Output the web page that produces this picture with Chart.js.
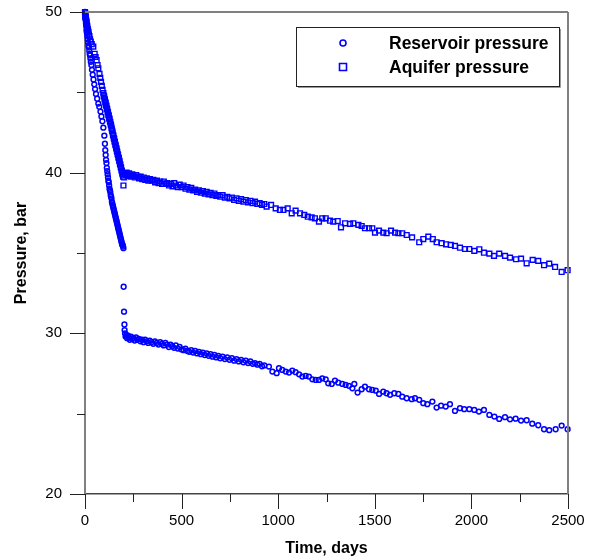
<!DOCTYPE html>
<html>
<head>
<meta charset="utf-8">
<script src="https://cdn.jsdelivr.net/npm/chart.js@4.4.0/dist/chart.umd.min.js"></script>
<style>
  html, body { margin: 0; padding: 0; background: #fff; }
  #wrap { width: 597px; height: 560px; }
</style>
</head>
<body>
<div id="wrap"><canvas id="myChart" width="597" height="560"></canvas></div>
<script>
// [time in days, pressure in bar]
const reservoirPoints = [
  [0,50.0],[1,49.9],[2,49.7],[3,49.6],[4,49.5],[5,49.3],[6,49.2],[7,49.1],[8,48.9],[9,48.8],[10,48.7],
  [12,48.5],[14,48.3],[16,48.1],[18,47.9],[20,47.8],[22,47.6],[24,47.4],[26,47.3],[28,47.1],[30,46.9],
  [33,46.7],[36,46.4],[40,46.1],[44,45.8],[48,45.5],[52,45.2],[57,44.9],[63,44.6],[69,44.3],[74,44.1],
  [80,43.8],[85,43.5],[90,43.2],[95,42.8],[100,42.3],[103,41.8],[105,41.4],[107,41.1],[109,40.8],[111,40.6],
  [113,40.3],[115,40.1],[117,39.9],[119,39.7],[121,39.5],[123,39.4],[125,39.2],[127,39.0],[129,38.9],[131,38.8],
  [133,38.6],[135,38.5],[137,38.4],[139,38.2],[141,38.1],[143,38.0],[145,37.9],[147,37.8],[149,37.7],[151,37.6],
  [153,37.5],[155,37.4],[157,37.3],[159,37.2],[161,37.1],[163,37.0],[165,36.9],[167,36.8],[169,36.7],[171,36.6],
  [173,36.5],[175,36.4],[177,36.3],[179,36.2],[181,36.1],[183,36.0],[185,35.9],[187,35.8],[189,35.7],[191,35.6],
  [193,35.5],[195,35.5],[197,35.4],[199,35.3],
  [200,32.9],[202,31.35],[204,30.55],[205,30.2],
  [207,30.0],[210,29.8],[214,29.9],[218,29.7],[222,29.85],[227,29.75],[232,29.6],[238,29.8],[244,29.65],[250,29.7],
  [257,29.55],[264,29.75],[271,29.6],[279,29.65],[287,29.5],[295,29.6],[303,29.45],[311,29.6],[319,29.5],[327,29.4],
  [335,29.55],[344,29.45],[353,29.35],[362,29.5],[371,29.4],[380,29.3],[389,29.45],[398,29.35],[407,29.25],[416,29.4],
  [425,29.3],[434,29.15],[443,29.3],[452,29.2],[461,29.1],[470,29.25],[480,29.05],[490,29.15],[500,29.0],[510,28.95],
  [520,29.05],[530,28.9],[540,28.85],[550,28.95],[560,28.8],[570,28.9],[580,28.75],[590,28.85],[600,28.7],[610,28.8],
  [620,28.65],[630,28.75],[640,28.6],[650,28.7],[660,28.55],[670,28.65],[680,28.5],[690,28.6],[700,28.45],[712,28.55],
  [724,28.4],[736,28.5],[748,28.35],[760,28.45],[772,28.3],[784,28.4],[796,28.25],[808,28.35],[820,28.2],[832,28.3],
  [844,28.15],[856,28.25],[868,28.1],[880,28.15],[892,28.05],[904,28.1],[916,27.95],[928,28.0],
  [952,27.93],[970,27.62],[992,27.52],[1004,27.83],[1021,27.72],[1039,27.62],[1056,27.56],[1073,27.68],[1090,27.58],
  [1108,27.45],[1125,27.31],[1142,27.35],[1159,27.31],[1177,27.14],[1194,27.10],[1211,27.10],[1228,27.20],[1246,27.14],
  [1259,26.89],[1277,26.85],[1294,27.06],[1311,26.93],[1332,26.85],[1349,26.79],[1366,26.73],[1384,26.58],[1394,26.85],
  [1411,26.31],[1432,26.52],[1449,26.68],[1470,26.52],[1487,26.48],[1505,26.43],[1522,26.23],[1544,26.37],[1561,26.27],
  [1579,26.17],[1601,26.27],[1622,26.23],[1642,26.06],[1665,25.96],[1691,25.9],[1708,25.96],[1730,25.86],[1751,25.65],
  [1772,25.59],[1798,25.75],[1820,25.38],[1843,25.50],[1867,25.44],[1889,25.59],[1915,25.17],[1941,25.34],[1963,25.28],
  [1989,25.28],[2015,25.23],[2039,25.13],[2065,25.23],[2093,24.92],[2119,24.82],[2144,24.67],[2174,24.78],[2200,24.65],
  [2229,24.69],[2257,24.57],[2286,24.59],[2315,24.38],[2346,24.28],[2376,24.03],[2403,23.97],[2436,24.03],[2467,24.26],
  [2498,24.03]
];

const aquiferPoints = [
  [0,50.0],[1,49.9],[2,49.8],[3,49.7],[4,49.65],[5,49.55],[6,49.5],[7,49.4],[8,49.35],[10,49.2],[12,49.1],
  [14,48.95],[16,48.85],[18,48.75],[20,48.6],[23,48.5],[26,48.3],[30,48.15],[35,48.0],[43,47.85],[50,47.4],
  [55,47.2],[60,47.0],[65,46.7],[69,46.5],[75,46.15],[79,45.9],[83,45.65],[87,45.4],[91,45.15],[95,44.95],
  [97,44.8],[99,44.75],[101,44.6],[103,44.55],[105,44.4],[107,44.35],[109,44.2],[111,44.15],[113,44.0],[115,43.95],
  [117,43.8],[119,43.75],[121,43.6],[123,43.55],[125,43.4],[127,43.35],[129,43.2],[131,43.15],[133,43.0],[135,42.95],
  [137,42.8],[139,42.7],[141,42.6],[143,42.5],[145,42.35],[147,42.3],[149,42.15],[151,42.1],[153,41.95],[155,41.9],
  [157,41.75],[159,41.7],[161,41.55],[163,41.5],[165,41.35],[167,41.3],[169,41.15],[171,41.1],[173,40.95],[175,40.9],
  [177,40.75],[179,40.7],[181,40.55],[183,40.5],[185,40.35],[187,40.3],[189,40.15],[191,40.1],[193,39.95],[195,39.9],
  [197,39.75],[199,39.2],
  [203,39.7],[207,39.95],[211,39.85],[215,40.0],[219,39.9],[223,39.8],[228,39.95],[233,39.85],[239,39.75],[245,39.9],
  [251,39.8],[258,39.7],[265,39.85],[272,39.75],[280,39.65],[288,39.75],[296,39.6],[304,39.7],[312,39.55],[320,39.65],
  [328,39.5],[336,39.6],[345,39.5],[354,39.55],[363,39.4],[372,39.5],[381,39.35],[390,39.45],[399,39.3],[408,39.45],
  [417,39.3],[426,39.35],[435,39.2],[444,39.3],[453,39.15],[462,39.35],[471,39.2],[480,39.1],[490,39.25],[500,39.1],
  [510,39.2],[520,39.0],[530,39.1],[540,38.95],[550,39.05],[560,38.9],[570,38.95],[580,38.8],[590,38.9],[600,38.75],
  [610,38.85],[620,38.7],[630,38.8],[640,38.65],[650,38.75],[660,38.6],[670,38.7],[680,38.55],[690,38.6],[700,38.5],
  [712,38.6],[724,38.45],[736,38.5],[748,38.4],[760,38.45],[772,38.3],[784,38.4],[796,38.25],[808,38.35],[820,38.2],
  [832,38.3],[844,38.15],[856,38.25],[868,38.1],[880,38.2],[892,38.05],[904,38.1],[916,38.0],[928,38.05],
  [940,37.89],[963,37.99],[987,37.78],[1009,37.68],[1027,37.68],[1049,37.78],[1070,37.47],[1090,37.64],[1113,37.47],
  [1135,37.37],[1153,37.26],[1173,37.22],[1190,37.16],[1211,36.95],[1228,37.16],[1246,37.16],[1268,37.01],[1285,36.95],
  [1308,36.99],[1325,36.60],[1346,36.85],[1372,36.81],[1389,36.85],[1415,36.75],[1432,36.68],[1449,36.54],[1470,36.54],
  [1487,36.54],[1501,36.27],[1522,36.39],[1544,36.27],[1561,36.23],[1584,36.39],[1605,36.27],[1622,36.23],[1642,36.23],
  [1665,36.12],[1693,35.97],[1730,35.67],[1751,35.87],[1777,36.02],[1800,35.87],[1820,35.67],[1846,35.61],[1869,35.54],
  [1893,35.50],[1915,35.44],[1941,35.33],[1967,35.25],[1989,35.25],[2015,35.13],[2041,35.23],[2065,35.02],[2093,34.96],
  [2117,34.82],[2144,34.96],[2174,34.82],[2200,34.71],[2231,34.61],[2257,34.65],[2286,34.36],[2317,34.57],[2346,34.51],
  [2376,34.24],[2403,34.34],[2433,34.13],[2467,33.82],[2498,33.93]
];

const seriesNames = ['Reservoir pressure', 'Aquifer pressure'];
const xLimits = [0, 2500];
const yLimits = [20, 50];

const FONT = "'Liberation Sans', Arial, sans-serif";
const BLUE = '#0000ff';

const toXY = (arr) => arr.map(p => ({ x: p[0], y: p[1] }));

// all tick marks (long on labelled values, short otherwise) + top/right frame
const frameAndTicks = {
  id: 'frameAndTicks',
  afterDraw(chart) {
    const ctx = chart.ctx, a = chart.chartArea;
    const sx = chart.scales.x, sy = chart.scales.y;
    ctx.save();
    ctx.strokeStyle = '#808080';
    ctx.lineWidth = 2;
    ctx.beginPath();
    ctx.moveTo(a.left, a.top); ctx.lineTo(a.right, a.top);
    ctx.moveTo(a.right, a.top); ctx.lineTo(a.right, a.bottom);
    ctx.stroke();

    ctx.strokeStyle = '#222';
    ctx.lineWidth = 1;
    ctx.beginPath();
    sx.ticks.forEach(t => {
      const len = t.value % 500 === 0 ? 15 : 8;
      const px = Math.round(sx.getPixelForValue(t.value)) + 0.5;
      ctx.moveTo(px, a.bottom); ctx.lineTo(px, a.bottom + len);
    });
    sy.ticks.forEach(t => {
      const len = t.value % 10 === 0 ? 15 : 8;
      const py = Math.round(sy.getPixelForValue(t.value)) + 0.5;
      ctx.moveTo(a.left - len, py); ctx.lineTo(a.left, py);
    });
    ctx.stroke();
    ctx.restore();
  }
};

// boxed legend inside the plot, top right
const boxLegend = {
  id: 'boxLegend',
  afterDraw(chart) {
    const ctx = chart.ctx, a = chart.chartArea;
    const bx = a.right - 272, by = a.top + 15, bw = 263, bh = 59;
    ctx.save();
    ctx.fillStyle = '#fff';
    ctx.fillRect(bx, by, bw, bh);
    ctx.strokeStyle = '#999';
    ctx.lineWidth = 1;
    ctx.beginPath();
    ctx.moveTo(bx + 2, by + bh + 1.5); ctx.lineTo(bx + bw + 1.5, by + bh + 1.5); ctx.lineTo(bx + bw + 1.5, by + 2);
    ctx.stroke();
    ctx.strokeStyle = '#222';
    ctx.strokeRect(bx + 0.5, by + 0.5, bw, bh);

    ctx.font = "bold 17.5px " + FONT;
    ctx.fillStyle = '#000';
    ctx.textBaseline = 'middle';
    chart.data.datasets.forEach((ds, i) => {
      const cy = by + 16 + i * 24;
      const mx = bx + 47;
      ctx.strokeStyle = ds.borderColor;
      ctx.lineWidth = 1.6;
      ctx.beginPath();
      if (ds.pointStyle === 'circle') {
        ctx.arc(mx, cy, 3, 0, Math.PI * 2);
      } else {
        ctx.rect(mx - 3.5, cy - 3.5, 7, 7);
      }
      ctx.stroke();
      ctx.fillText(ds.label, bx + 93, cy + 1);
    });
    ctx.restore();
  }
};

const noTickColor = 'rgba(0,0,0,0)';

const ctx = document.getElementById('myChart').getContext('2d');
const chart = new Chart(ctx, {
  type: 'scatter',
  data: {
    datasets: [
      {
        label: seriesNames[0],
        data: toXY(reservoirPoints),
        pointStyle: 'circle',
        pointRadius: 2.4,
        pointBorderWidth: 1.5,
        borderColor: BLUE,
        backgroundColor: 'rgba(0,0,0,0)',
        clip: false
      },
      {
        label: seriesNames[1],
        data: toXY(aquiferPoints),
        pointStyle: 'rect',
        pointRadius: 3.4,
        pointBorderWidth: 1.4,
        borderColor: BLUE,
        backgroundColor: 'rgba(0,0,0,0)',
        clip: false
      }
    ]
  },
  options: {
    responsive: false,
    animation: false,
    events: [],
    layout: { padding: { top: 12, right: 29, left: 0, bottom: 0 } },
    plugins: { legend: { display: false }, tooltip: { enabled: false } },
    scales: {
      x: {
        type: 'linear',
        min: xLimits[0], max: xLimits[1],
        afterFit: (s) => { s.height = 66; s.paddingLeft = 0; s.paddingRight = 0; },
        border: { display: true, color: '#444', width: 1.5 },
        grid: { drawOnChartArea: false, tickLength: 15, tickColor: noTickColor },
        ticks: {
          stepSize: 250,
          autoSkip: false,
          maxRotation: 0,
          padding: 3,
          color: '#000',
          font: { family: FONT, size: 15 },
          callback: (v) => v % 500 === 0 ? String(v) : ''
        },
        title: {
          display: true,
          text: 'Time, days',
          color: '#000',
          font: { family: FONT, size: 16, weight: 'bold' },
          padding: { top: 0, bottom: 2 }
        }
      },
      y: {
        type: 'linear',
        min: yLimits[0], max: yLimits[1],
        afterFit: (s) => { s.width = 85; s.paddingTop = 0; s.paddingBottom = 0; },
        border: { display: true, color: '#808080', width: 2 },
        grid: { drawOnChartArea: false, tickLength: 15, tickColor: noTickColor },
        ticks: {
          stepSize: 5,
          autoSkip: false,
          padding: 8,
          color: '#000',
          font: { family: FONT, size: 15 },
          callback: (v) => v % 10 === 0 ? String(v) : ''
        },
        title: {
          display: true,
          text: 'Pressure, bar',
          color: '#000',
          font: { family: FONT, size: 16, weight: 'bold' },
          padding: { top: 12, bottom: 0 }
        }
      }
    }
  },
  plugins: [frameAndTicks, boxLegend]
});
</script>
</body>
</html>
